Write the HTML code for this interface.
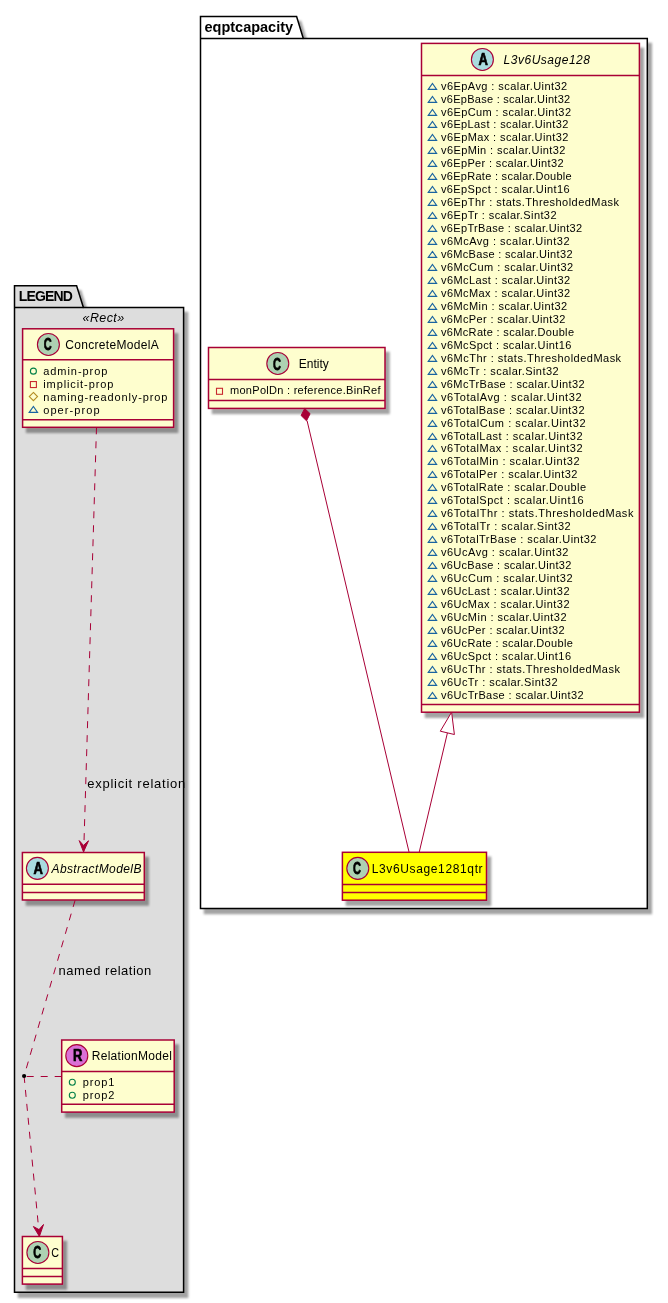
<!DOCTYPE html><html><head><meta charset="utf-8"><style>html,body{margin:0;padding:0;background:#FFFFFF;width:668px;height:1303px;overflow:hidden;position:relative}</style></head><body><svg width="668" height="1303" viewBox="0 0 668 1303" style="position:absolute;left:0;top:0;will-change:transform">
<defs><filter id="sh" x="-50%" y="-50%" width="200%" height="200%"><feGaussianBlur in="SourceAlpha" stdDeviation="0.9"/><feColorMatrix type="matrix" values="0 0 0 0 0  0 0 0 0 0  0 0 0 0 0  0 0 0 0.36 0"/><feOffset dx="4.4" dy="4.9" result="s"/><feMerge><feMergeNode in="s"/><feMergeNode in="SourceGraphic"/></feMerge></filter></defs>
<polygon points="200.5,16.5 296.6,16.5 303.3,38.4 647.3,38.4 647.3,908.6 200.5,908.6" fill="#FFFFFF" stroke="#000000" stroke-width="1.5" filter="url(#sh)"/>
<line x1="200.5" y1="38.4" x2="303.3" y2="38.4" stroke="#000000" stroke-width="1.5"/>
<text x="204.5" y="31.7" font-family="&quot;Liberation Sans&quot;, sans-serif" font-size="14.5" fill="#000000" font-weight="bold" textLength="88.6" lengthAdjust="spacing">eqptcapacity</text>
<rect x="421.5" y="43.4" width="217.90" height="668.80" fill="#FEFECE" stroke="#A80036" stroke-width="1.5" filter="url(#sh)"/>
<line x1="421.5" y1="75.5" x2="639.4" y2="75.5" stroke="#A80036" stroke-width="1.5"/>
<line x1="421.5" y1="704.6" x2="639.4" y2="704.6" stroke="#A80036" stroke-width="1.5"/>
<circle cx="482.40" cy="59.45" r="11" fill="#A9DCDF" stroke="#A80036" stroke-width="1.1"/>
<text x="0" y="0" font-family="&quot;Liberation Sans&quot;, sans-serif" font-size="17.0" font-weight="bold" stroke="#000" stroke-width="0.75" transform="translate(478.47 64.70) scale(0.7647 1)">A</text>
<text x="503.6" y="63.6" font-family="&quot;Liberation Sans&quot;, sans-serif" font-size="12" fill="#000000" font-style="italic" textLength="86.4" lengthAdjust="spacing">L3v6Usage128</text>
<polygon points="428.25,89.40 432.45,83.40 436.65,89.40" fill="none" stroke="#1963A0" stroke-width="1.1"/>
<text x="441.0" y="89.6" font-family="&quot;Liberation Sans&quot;, sans-serif" font-size="11.0" fill="#000000" textLength="126.2" lengthAdjust="spacing">v6EpAvg : scalar.Uint32</text>
<polygon points="428.25,102.40 432.45,96.40 436.65,102.40" fill="none" stroke="#1963A0" stroke-width="1.1"/>
<text x="441.0" y="102.56" font-family="&quot;Liberation Sans&quot;, sans-serif" font-size="11.0" fill="#000000" textLength="129.2" lengthAdjust="spacing">v6EpBase : scalar.Uint32</text>
<polygon points="428.25,115.40 432.45,109.40 436.65,115.40" fill="none" stroke="#1963A0" stroke-width="1.1"/>
<text x="441.0" y="115.52" font-family="&quot;Liberation Sans&quot;, sans-serif" font-size="11.0" fill="#000000" textLength="130.0" lengthAdjust="spacing">v6EpCum : scalar.Uint32</text>
<polygon points="428.25,127.40 432.45,121.40 436.65,127.40" fill="none" stroke="#1963A0" stroke-width="1.1"/>
<text x="441.0" y="128.48" font-family="&quot;Liberation Sans&quot;, sans-serif" font-size="11.0" fill="#000000" textLength="127.4" lengthAdjust="spacing">v6EpLast : scalar.Uint32</text>
<polygon points="428.25,140.40 432.45,134.40 436.65,140.40" fill="none" stroke="#1963A0" stroke-width="1.1"/>
<text x="441.0" y="141.44" font-family="&quot;Liberation Sans&quot;, sans-serif" font-size="11.0" fill="#000000" textLength="127.4" lengthAdjust="spacing">v6EpMax : scalar.Uint32</text>
<polygon points="428.25,153.40 432.45,147.40 436.65,153.40" fill="none" stroke="#1963A0" stroke-width="1.1"/>
<text x="441.0" y="154.4" font-family="&quot;Liberation Sans&quot;, sans-serif" font-size="11.0" fill="#000000" textLength="124.4" lengthAdjust="spacing">v6EpMin : scalar.Uint32</text>
<polygon points="428.25,166.40 432.45,160.40 436.65,166.40" fill="none" stroke="#1963A0" stroke-width="1.1"/>
<text x="441.0" y="167.36" font-family="&quot;Liberation Sans&quot;, sans-serif" font-size="11.0" fill="#000000" textLength="122.5" lengthAdjust="spacing">v6EpPer : scalar.Uint32</text>
<polygon points="428.25,179.40 432.45,173.40 436.65,179.40" fill="none" stroke="#1963A0" stroke-width="1.1"/>
<text x="441.0" y="180.32" font-family="&quot;Liberation Sans&quot;, sans-serif" font-size="11.0" fill="#000000" textLength="130.7" lengthAdjust="spacing">v6EpRate : scalar.Double</text>
<polygon points="428.25,192.40 432.45,186.40 436.65,192.40" fill="none" stroke="#1963A0" stroke-width="1.1"/>
<text x="441.0" y="193.28" font-family="&quot;Liberation Sans&quot;, sans-serif" font-size="11.0" fill="#000000" textLength="128.5" lengthAdjust="spacing">v6EpSpct : scalar.Uint16</text>
<polygon points="428.25,205.40 432.45,199.40 436.65,205.40" fill="none" stroke="#1963A0" stroke-width="1.1"/>
<text x="441.0" y="206.24" font-family="&quot;Liberation Sans&quot;, sans-serif" font-size="11.0" fill="#000000" textLength="177.9" lengthAdjust="spacing">v6EpThr : stats.ThresholdedMask</text>
<polygon points="428.25,218.40 432.45,212.40 436.65,218.40" fill="none" stroke="#1963A0" stroke-width="1.1"/>
<text x="441.0" y="219.2" font-family="&quot;Liberation Sans&quot;, sans-serif" font-size="11.0" fill="#000000" textLength="115.5" lengthAdjust="spacing">v6EpTr : scalar.Sint32</text>
<polygon points="428.25,231.40 432.45,225.40 436.65,231.40" fill="none" stroke="#1963A0" stroke-width="1.1"/>
<text x="441.0" y="232.16" font-family="&quot;Liberation Sans&quot;, sans-serif" font-size="11.0" fill="#000000" textLength="141.2" lengthAdjust="spacing">v6EpTrBase : scalar.Uint32</text>
<polygon points="428.25,244.40 432.45,238.40 436.65,244.40" fill="none" stroke="#1963A0" stroke-width="1.1"/>
<text x="441.0" y="245.12" font-family="&quot;Liberation Sans&quot;, sans-serif" font-size="11.0" fill="#000000" textLength="128.5" lengthAdjust="spacing">v6McAvg : scalar.Uint32</text>
<polygon points="428.25,257.40 432.45,251.40 436.65,257.40" fill="none" stroke="#1963A0" stroke-width="1.1"/>
<text x="441.0" y="258.08" font-family="&quot;Liberation Sans&quot;, sans-serif" font-size="11.0" fill="#000000" textLength="131.5" lengthAdjust="spacing">v6McBase : scalar.Uint32</text>
<polygon points="428.25,270.40 432.45,264.40 436.65,270.40" fill="none" stroke="#1963A0" stroke-width="1.1"/>
<text x="441.0" y="271.04" font-family="&quot;Liberation Sans&quot;, sans-serif" font-size="11.0" fill="#000000" textLength="132.2" lengthAdjust="spacing">v6McCum : scalar.Uint32</text>
<polygon points="428.25,283.40 432.45,277.40 436.65,283.40" fill="none" stroke="#1963A0" stroke-width="1.1"/>
<text x="441.0" y="284.0" font-family="&quot;Liberation Sans&quot;, sans-serif" font-size="11.0" fill="#000000" textLength="129.2" lengthAdjust="spacing">v6McLast : scalar.Uint32</text>
<polygon points="428.25,296.40 432.45,290.40 436.65,296.40" fill="none" stroke="#1963A0" stroke-width="1.1"/>
<text x="441.0" y="296.96" font-family="&quot;Liberation Sans&quot;, sans-serif" font-size="11.0" fill="#000000" textLength="129.2" lengthAdjust="spacing">v6McMax : scalar.Uint32</text>
<polygon points="428.25,309.40 432.45,303.40 436.65,309.40" fill="none" stroke="#1963A0" stroke-width="1.1"/>
<text x="441.0" y="309.92" font-family="&quot;Liberation Sans&quot;, sans-serif" font-size="11.0" fill="#000000" textLength="126.2" lengthAdjust="spacing">v6McMin : scalar.Uint32</text>
<polygon points="428.25,322.40 432.45,316.40 436.65,322.40" fill="none" stroke="#1963A0" stroke-width="1.1"/>
<text x="441.0" y="322.88" font-family="&quot;Liberation Sans&quot;, sans-serif" font-size="11.0" fill="#000000" textLength="124.4" lengthAdjust="spacing">v6McPer : scalar.Uint32</text>
<polygon points="428.25,335.40 432.45,329.40 436.65,335.40" fill="none" stroke="#1963A0" stroke-width="1.1"/>
<text x="441.0" y="335.84" font-family="&quot;Liberation Sans&quot;, sans-serif" font-size="11.0" fill="#000000" textLength="133.0" lengthAdjust="spacing">v6McRate : scalar.Double</text>
<polygon points="428.25,348.40 432.45,342.40 436.65,348.40" fill="none" stroke="#1963A0" stroke-width="1.1"/>
<text x="441.0" y="348.8" font-family="&quot;Liberation Sans&quot;, sans-serif" font-size="11.0" fill="#000000" textLength="130.4" lengthAdjust="spacing">v6McSpct : scalar.Uint16</text>
<polygon points="428.25,361.40 432.45,355.40 436.65,361.40" fill="none" stroke="#1963A0" stroke-width="1.1"/>
<text x="441.0" y="361.76" font-family="&quot;Liberation Sans&quot;, sans-serif" font-size="11.0" fill="#000000" textLength="180.1" lengthAdjust="spacing">v6McThr : stats.ThresholdedMask</text>
<polygon points="428.25,374.40 432.45,368.40 436.65,374.40" fill="none" stroke="#1963A0" stroke-width="1.1"/>
<text x="441.0" y="374.72" font-family="&quot;Liberation Sans&quot;, sans-serif" font-size="11.0" fill="#000000" textLength="117.6" lengthAdjust="spacing">v6McTr : scalar.Sint32</text>
<polygon points="428.25,387.40 432.45,381.40 436.65,387.40" fill="none" stroke="#1963A0" stroke-width="1.1"/>
<text x="441.0" y="387.68" font-family="&quot;Liberation Sans&quot;, sans-serif" font-size="11.0" fill="#000000" textLength="143.5" lengthAdjust="spacing">v6McTrBase : scalar.Uint32</text>
<polygon points="428.25,400.40 432.45,394.40 436.65,400.40" fill="none" stroke="#1963A0" stroke-width="1.1"/>
<text x="441.0" y="400.64" font-family="&quot;Liberation Sans&quot;, sans-serif" font-size="11.0" fill="#000000" textLength="140.5" lengthAdjust="spacing">v6TotalAvg : scalar.Uint32</text>
<polygon points="428.25,413.40 432.45,407.40 436.65,413.40" fill="none" stroke="#1963A0" stroke-width="1.1"/>
<text x="441.0" y="413.6" font-family="&quot;Liberation Sans&quot;, sans-serif" font-size="11.0" fill="#000000" textLength="143.5" lengthAdjust="spacing">v6TotalBase : scalar.Uint32</text>
<polygon points="428.25,426.40 432.45,420.40 436.65,426.40" fill="none" stroke="#1963A0" stroke-width="1.1"/>
<text x="441.0" y="426.56" font-family="&quot;Liberation Sans&quot;, sans-serif" font-size="11.0" fill="#000000" textLength="144.5" lengthAdjust="spacing">v6TotalCum : scalar.Uint32</text>
<polygon points="428.25,439.40 432.45,433.40 436.65,439.40" fill="none" stroke="#1963A0" stroke-width="1.1"/>
<text x="441.0" y="439.52" font-family="&quot;Liberation Sans&quot;, sans-serif" font-size="11.0" fill="#000000" textLength="141.5" lengthAdjust="spacing">v6TotalLast : scalar.Uint32</text>
<polygon points="428.25,451.40 432.45,445.40 436.65,451.40" fill="none" stroke="#1963A0" stroke-width="1.1"/>
<text x="441.0" y="452.48" font-family="&quot;Liberation Sans&quot;, sans-serif" font-size="11.0" fill="#000000" textLength="141.5" lengthAdjust="spacing">v6TotalMax : scalar.Uint32</text>
<polygon points="428.25,464.40 432.45,458.40 436.65,464.40" fill="none" stroke="#1963A0" stroke-width="1.1"/>
<text x="441.0" y="465.44" font-family="&quot;Liberation Sans&quot;, sans-serif" font-size="11.0" fill="#000000" textLength="138.5" lengthAdjust="spacing">v6TotalMin : scalar.Uint32</text>
<polygon points="428.25,477.40 432.45,471.40 436.65,477.40" fill="none" stroke="#1963A0" stroke-width="1.1"/>
<text x="441.0" y="478.4" font-family="&quot;Liberation Sans&quot;, sans-serif" font-size="11.0" fill="#000000" textLength="136.4" lengthAdjust="spacing">v6TotalPer : scalar.Uint32</text>
<polygon points="428.25,490.40 432.45,484.40 436.65,490.40" fill="none" stroke="#1963A0" stroke-width="1.1"/>
<text x="441.0" y="491.36" font-family="&quot;Liberation Sans&quot;, sans-serif" font-size="11.0" fill="#000000" textLength="145.0" lengthAdjust="spacing">v6TotalRate : scalar.Double</text>
<polygon points="428.25,503.40 432.45,497.40 436.65,503.40" fill="none" stroke="#1963A0" stroke-width="1.1"/>
<text x="441.0" y="504.32" font-family="&quot;Liberation Sans&quot;, sans-serif" font-size="11.0" fill="#000000" textLength="142.7" lengthAdjust="spacing">v6TotalSpct : scalar.Uint16</text>
<polygon points="428.25,516.40 432.45,510.40 436.65,516.40" fill="none" stroke="#1963A0" stroke-width="1.1"/>
<text x="441.0" y="517.28" font-family="&quot;Liberation Sans&quot;, sans-serif" font-size="11.0" fill="#000000" textLength="192.4" lengthAdjust="spacing">v6TotalThr : stats.ThresholdedMask</text>
<polygon points="428.25,529.40 432.45,523.40 436.65,529.40" fill="none" stroke="#1963A0" stroke-width="1.1"/>
<text x="441.0" y="530.24" font-family="&quot;Liberation Sans&quot;, sans-serif" font-size="11.0" fill="#000000" textLength="129.7" lengthAdjust="spacing">v6TotalTr : scalar.Sint32</text>
<polygon points="428.25,542.40 432.45,536.40 436.65,542.40" fill="none" stroke="#1963A0" stroke-width="1.1"/>
<text x="441.0" y="543.2" font-family="&quot;Liberation Sans&quot;, sans-serif" font-size="11.0" fill="#000000" textLength="155.4" lengthAdjust="spacing">v6TotalTrBase : scalar.Uint32</text>
<polygon points="428.25,555.40 432.45,549.40 436.65,555.40" fill="none" stroke="#1963A0" stroke-width="1.1"/>
<text x="441.0" y="556.16" font-family="&quot;Liberation Sans&quot;, sans-serif" font-size="11.0" fill="#000000" textLength="127.4" lengthAdjust="spacing">v6UcAvg : scalar.Uint32</text>
<polygon points="428.25,568.40 432.45,562.40 436.65,568.40" fill="none" stroke="#1963A0" stroke-width="1.1"/>
<text x="441.0" y="569.12" font-family="&quot;Liberation Sans&quot;, sans-serif" font-size="11.0" fill="#000000" textLength="130.4" lengthAdjust="spacing">v6UcBase : scalar.Uint32</text>
<polygon points="428.25,581.40 432.45,575.40 436.65,581.40" fill="none" stroke="#1963A0" stroke-width="1.1"/>
<text x="441.0" y="582.08" font-family="&quot;Liberation Sans&quot;, sans-serif" font-size="11.0" fill="#000000" textLength="131.5" lengthAdjust="spacing">v6UcCum : scalar.Uint32</text>
<polygon points="428.25,594.40 432.45,588.40 436.65,594.40" fill="none" stroke="#1963A0" stroke-width="1.1"/>
<text x="441.0" y="595.04" font-family="&quot;Liberation Sans&quot;, sans-serif" font-size="11.0" fill="#000000" textLength="128.5" lengthAdjust="spacing">v6UcLast : scalar.Uint32</text>
<polygon points="428.25,607.40 432.45,601.40 436.65,607.40" fill="none" stroke="#1963A0" stroke-width="1.1"/>
<text x="441.0" y="608.0" font-family="&quot;Liberation Sans&quot;, sans-serif" font-size="11.0" fill="#000000" textLength="128.5" lengthAdjust="spacing">v6UcMax : scalar.Uint32</text>
<polygon points="428.25,620.40 432.45,614.40 436.65,620.40" fill="none" stroke="#1963A0" stroke-width="1.1"/>
<text x="441.0" y="620.96" font-family="&quot;Liberation Sans&quot;, sans-serif" font-size="11.0" fill="#000000" textLength="125.5" lengthAdjust="spacing">v6UcMin : scalar.Uint32</text>
<polygon points="428.25,633.40 432.45,627.40 436.65,633.40" fill="none" stroke="#1963A0" stroke-width="1.1"/>
<text x="441.0" y="633.92" font-family="&quot;Liberation Sans&quot;, sans-serif" font-size="11.0" fill="#000000" textLength="123.6" lengthAdjust="spacing">v6UcPer : scalar.Uint32</text>
<polygon points="428.25,646.40 432.45,640.40 436.65,646.40" fill="none" stroke="#1963A0" stroke-width="1.1"/>
<text x="441.0" y="646.88" font-family="&quot;Liberation Sans&quot;, sans-serif" font-size="11.0" fill="#000000" textLength="131.9" lengthAdjust="spacing">v6UcRate : scalar.Double</text>
<polygon points="428.25,659.40 432.45,653.40 436.65,659.40" fill="none" stroke="#1963A0" stroke-width="1.1"/>
<text x="441.0" y="659.84" font-family="&quot;Liberation Sans&quot;, sans-serif" font-size="11.0" fill="#000000" textLength="130.0" lengthAdjust="spacing">v6UcSpct : scalar.Uint16</text>
<polygon points="428.25,672.40 432.45,666.40 436.65,672.40" fill="none" stroke="#1963A0" stroke-width="1.1"/>
<text x="441.0" y="672.8" font-family="&quot;Liberation Sans&quot;, sans-serif" font-size="11.0" fill="#000000" textLength="178.9" lengthAdjust="spacing">v6UcThr : stats.ThresholdedMask</text>
<polygon points="428.25,685.40 432.45,679.40 436.65,685.40" fill="none" stroke="#1963A0" stroke-width="1.1"/>
<text x="441.0" y="685.76" font-family="&quot;Liberation Sans&quot;, sans-serif" font-size="11.0" fill="#000000" textLength="116.5" lengthAdjust="spacing">v6UcTr : scalar.Sint32</text>
<polygon points="428.25,698.40 432.45,692.40 436.65,698.40" fill="none" stroke="#1963A0" stroke-width="1.1"/>
<text x="441.0" y="698.72" font-family="&quot;Liberation Sans&quot;, sans-serif" font-size="11.0" fill="#000000" textLength="142.7" lengthAdjust="spacing">v6UcTrBase : scalar.Uint32</text>
<rect x="208.5" y="347.5" width="176.50" height="60.90" fill="#FEFECE" stroke="#A80036" stroke-width="1.5" filter="url(#sh)"/>
<line x1="208.5" y1="379.5" x2="385" y2="379.5" stroke="#A80036" stroke-width="1.5"/>
<line x1="208.5" y1="400.5" x2="385" y2="400.5" stroke="#A80036" stroke-width="1.5"/>
<circle cx="277.80" cy="363.45" r="11" fill="#ADD1B2" stroke="#A80036" stroke-width="1.1"/>
<text x="0" y="0" font-family="&quot;Liberation Sans&quot;, sans-serif" font-size="17.0" font-weight="bold" stroke="#000" stroke-width="0.75" transform="translate(273.06 369.60) scale(0.6471 1)">C</text>
<text x="298.8" y="367.6" font-family="&quot;Liberation Sans&quot;, sans-serif" font-size="12" fill="#000000" textLength="29.9" lengthAdjust="spacing">Entity</text>
<rect x="216.5" y="388.3" width="6" height="6" fill="none" stroke="#C82930" stroke-width="1.1"/>
<text x="230" y="394.1" font-family="&quot;Liberation Sans&quot;, sans-serif" font-size="11.0" fill="#000000" textLength="150.5" lengthAdjust="spacing">monPolDn : reference.BinRef</text>
<rect x="342.4" y="852.3" width="144.10" height="47.90" fill="#FFFF00" stroke="#A80036" stroke-width="1.5" filter="url(#sh)"/>
<line x1="342.4" y1="884.5" x2="486.5" y2="884.5" stroke="#A80036" stroke-width="1.5"/>
<line x1="342.4" y1="892.5" x2="486.5" y2="892.5" stroke="#A80036" stroke-width="1.5"/>
<circle cx="357.80" cy="868.35" r="11" fill="#ADD1B2" stroke="#A80036" stroke-width="1.1"/>
<text x="0" y="0" font-family="&quot;Liberation Sans&quot;, sans-serif" font-size="17.0" font-weight="bold" stroke="#000" stroke-width="0.75" transform="translate(353.06 873.60) scale(0.6471 1)">C</text>
<text x="371.7" y="872.6" font-family="&quot;Liberation Sans&quot;, sans-serif" font-size="12" fill="#000000" textLength="110.9" lengthAdjust="spacing">L3v6Usage1281qtr</text>
<line x1="307.1" y1="420.8" x2="409.1" y2="852.3" stroke="#A80036" stroke-width="1"/>
<polygon points="304.7,408.5 310.1,413.7 306.5,420.8 301.1,415.5" fill="#A80036" stroke="#A80036" stroke-width="1"/>
<line x1="447.4" y1="733" x2="419.2" y2="852.3" stroke="#A80036" stroke-width="1"/>
<polygon points="451.6,712.2 454.4,734.5 440.3,731.2" fill="#FFFFFF" stroke="#A80036" stroke-width="1"/>
<polygon points="14.5,285.7 76.6,285.7 83.4,307.4 183.6,307.4 183.6,1292.2 14.5,1292.2" fill="#DDDDDD" stroke="#000000" stroke-width="1.5" filter="url(#sh)"/>
<line x1="14.5" y1="307.4" x2="83.4" y2="307.4" stroke="#000000" stroke-width="1.5"/>
<text x="18.7" y="300.5" font-family="&quot;Liberation Sans&quot;, sans-serif" font-size="14" fill="#000000" font-weight="bold" textLength="54.2" lengthAdjust="spacing">LEGEND</text>
<text x="82.6" y="322.3" font-family="&quot;Liberation Sans&quot;, sans-serif" font-size="12.5" fill="#000000" font-style="italic" textLength="41.6" lengthAdjust="spacing">«Rect»</text>
<rect x="22.6" y="328.8" width="151.00" height="98.50" fill="#FEFECE" stroke="#A80036" stroke-width="1.5" filter="url(#sh)"/>
<line x1="22.6" y1="359.8" x2="173.6" y2="359.8" stroke="#A80036" stroke-width="1.5"/>
<line x1="22.6" y1="419.8" x2="173.6" y2="419.8" stroke="#A80036" stroke-width="1.5"/>
<circle cx="48.40" cy="344.45" r="11" fill="#ADD1B2" stroke="#A80036" stroke-width="1.1"/>
<text x="0" y="0" font-family="&quot;Liberation Sans&quot;, sans-serif" font-size="17.0" font-weight="bold" stroke="#000" stroke-width="0.75" transform="translate(43.66 349.70) scale(0.6471 1)">C</text>
<text x="65.3" y="348.6" font-family="&quot;Liberation Sans&quot;, sans-serif" font-size="12" fill="#000000" textLength="93.4" lengthAdjust="spacing">ConcreteModelA</text>
<circle cx="33.4" cy="371.15" r="3" fill="none" stroke="#038048" stroke-width="1.1"/>
<text x="43.2" y="374.75" font-family="&quot;Liberation Sans&quot;, sans-serif" font-size="11.0" fill="#000000" textLength="64.2" lengthAdjust="spacing">admin-prop</text>
<rect x="30.4" y="381.55" width="6" height="6" fill="none" stroke="#C82930" stroke-width="1.1"/>
<text x="43.2" y="387.7" font-family="&quot;Liberation Sans&quot;, sans-serif" font-size="11.0" fill="#000000" textLength="70.2" lengthAdjust="spacing">implicit-prop</text>
<polygon points="33.4,392.44999999999993 37.5,396.54999999999995 33.4,400.65 29.299999999999997,396.54999999999995" fill="none" stroke="#B38D22" stroke-width="1.1"/>
<text x="43.2" y="400.65" font-family="&quot;Liberation Sans&quot;, sans-serif" font-size="11.0" fill="#000000" textLength="124.1" lengthAdjust="spacing">naming-readonly-prop</text>
<polygon points="29.20,412.40 33.40,406.40 37.60,412.40" fill="none" stroke="#1963A0" stroke-width="1.1"/>
<text x="43.2" y="413.6" font-family="&quot;Liberation Sans&quot;, sans-serif" font-size="11.0" fill="#000000" textLength="56.3" lengthAdjust="spacing">oper-prop</text>
<rect x="22.4" y="852.5" width="121.90" height="47.50" fill="#FEFECE" stroke="#A80036" stroke-width="1.5" filter="url(#sh)"/>
<line x1="22.4" y1="884.3" x2="144.3" y2="884.3" stroke="#A80036" stroke-width="1.5"/>
<line x1="22.4" y1="892.4" x2="144.3" y2="892.4" stroke="#A80036" stroke-width="1.5"/>
<circle cx="37.40" cy="868.35" r="11" fill="#A9DCDF" stroke="#A80036" stroke-width="1.1"/>
<text x="0" y="0" font-family="&quot;Liberation Sans&quot;, sans-serif" font-size="17.0" font-weight="bold" stroke="#000" stroke-width="0.75" transform="translate(33.47 873.70) scale(0.7647 1)">A</text>
<text x="51.5" y="872.6" font-family="&quot;Liberation Sans&quot;, sans-serif" font-size="12" fill="#000000" font-style="italic" textLength="89.9" lengthAdjust="spacing">AbstractModelB</text>
<rect x="61.7" y="1040" width="112.50" height="72.10" fill="#FEFECE" stroke="#A80036" stroke-width="1.5" filter="url(#sh)"/>
<line x1="61.7" y1="1071.5" x2="174.2" y2="1071.5" stroke="#A80036" stroke-width="1.5"/>
<line x1="61.7" y1="1104.3" x2="174.2" y2="1104.3" stroke="#A80036" stroke-width="1.5"/>
<circle cx="76.80" cy="1055.65" r="11" fill="#DA70D6" stroke="#A80036" stroke-width="1.1"/>
<text x="0" y="0" font-family="&quot;Liberation Sans&quot;, sans-serif" font-size="17.2" font-weight="bold" stroke="#000" stroke-width="0.75" transform="translate(72.91 1060.90) scale(0.7558 1)">R</text>
<text x="91.8" y="1059.8" font-family="&quot;Liberation Sans&quot;, sans-serif" font-size="12" fill="#000000" textLength="80.0" lengthAdjust="spacing">RelationModel</text>
<circle cx="72.3" cy="1082.3000000000002" r="3" fill="none" stroke="#038048" stroke-width="1.1"/>
<text x="82.85" y="1085.9" font-family="&quot;Liberation Sans&quot;, sans-serif" font-size="11.0" fill="#000000" textLength="31.5" lengthAdjust="spacing">prop1</text>
<circle cx="72.3" cy="1095.2490000000003" r="3" fill="none" stroke="#038048" stroke-width="1.1"/>
<text x="82.85" y="1098.85" font-family="&quot;Liberation Sans&quot;, sans-serif" font-size="11.0" fill="#000000" textLength="31.5" lengthAdjust="spacing">prop2</text>
<rect x="22.4" y="1236.5" width="40.00" height="47.60" fill="#FEFECE" stroke="#A80036" stroke-width="1.5" filter="url(#sh)"/>
<line x1="22.4" y1="1268.4" x2="62.4" y2="1268.4" stroke="#A80036" stroke-width="1.5"/>
<line x1="22.4" y1="1276.6" x2="62.4" y2="1276.6" stroke="#A80036" stroke-width="1.5"/>
<circle cx="37.90" cy="1252.45" r="11" fill="#ADD1B2" stroke="#A80036" stroke-width="1.1"/>
<text x="0" y="0" font-family="&quot;Liberation Sans&quot;, sans-serif" font-size="17.0" font-weight="bold" stroke="#000" stroke-width="0.75" transform="translate(33.16 1257.50) scale(0.6471 1)">C</text>
<text x="0" y="0" font-family="&quot;Liberation Sans&quot;, sans-serif" font-size="12" fill="#000000" transform="translate(51.2 1256.7) scale(0.9 1)">C</text>
<line x1="96.5" y1="427.3" x2="83.7" y2="851.8" stroke="#A80036" stroke-width="1" stroke-dasharray="7,7"/>
<polygon points="83.5,851.9 79.2,840.6 83.5,845.4 88.5,840.8" fill="#A80036" stroke="#A80036" stroke-width="1"/>
<text x="87.2" y="787.7" font-family="&quot;Liberation Sans&quot;, sans-serif" font-size="13" fill="#000000" textLength="98.1" lengthAdjust="spacing">explicit relation</text>
<line x1="75.1" y1="900.2" x2="24.1" y2="1076" stroke="#A80036" stroke-width="1" stroke-dasharray="7,7"/>
<text x="58.6" y="974.8" font-family="&quot;Liberation Sans&quot;, sans-serif" font-size="13" fill="#000000" textLength="92.7" lengthAdjust="spacing">named relation</text>
<line x1="24.1" y1="1076" x2="39.4" y2="1236.4" stroke="#A80036" stroke-width="1" stroke-dasharray="7,7"/>
<polygon points="39.4,1236.4 33.4,1226.5 39,1229.6 43.5,1224.5" fill="#A80036" stroke="#A80036" stroke-width="1"/>
<line x1="61.7" y1="1076.5" x2="24" y2="1076.5" stroke="#A80036" stroke-width="1" stroke-dasharray="7,7"/>
<circle cx="24.1" cy="1076" r="2.1" fill="#000000"/>
</svg></body></html>
